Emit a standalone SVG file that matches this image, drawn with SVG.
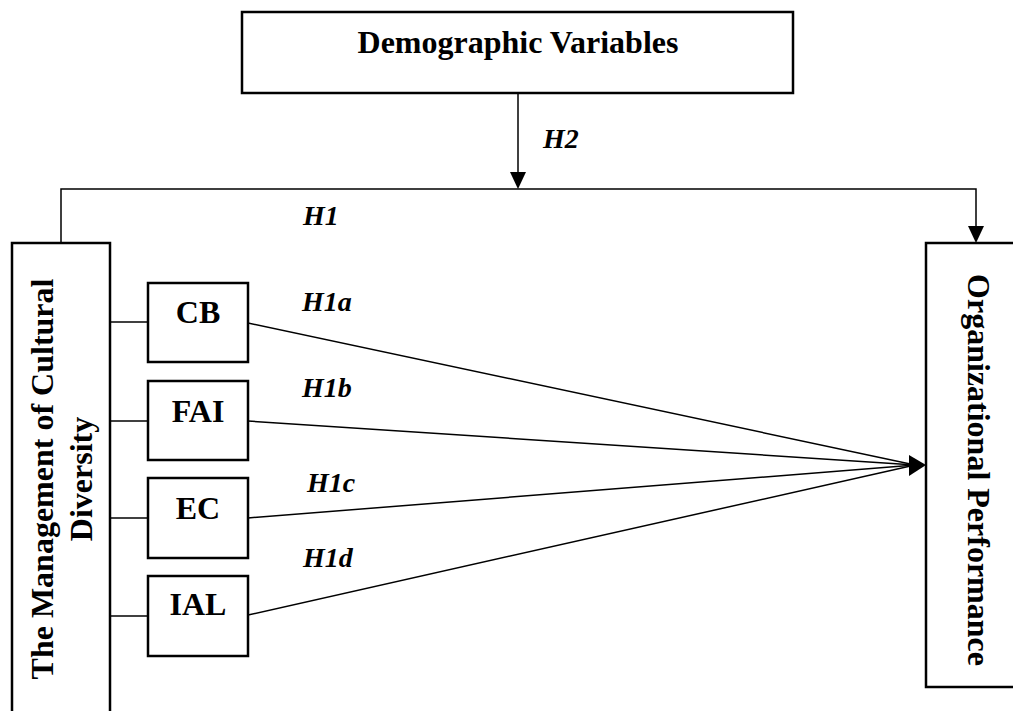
<svg xmlns="http://www.w3.org/2000/svg" width="1013" height="711" viewBox="0 0 1013 711">
<style>
.box{fill:#fff;stroke:#000;stroke-width:2.5}
.lbl{font-family:"Liberation Serif","Times New Roman",serif;font-weight:bold;font-size:32px;fill:#000}
.hyp{font-family:"Liberation Serif","Times New Roman",serif;font-weight:bold;font-style:italic;font-size:28px;fill:#000}
.ln{stroke:#000;stroke-width:1.5;fill:none}
.ah{fill:#000;stroke:none}
</style>
<rect width="1013" height="711" fill="#fff"/>
<g id="connectors">
<line class="ln" x1="518" y1="93" x2="518" y2="175"/>
<polygon class="ah" points="510,172 526,172 518,189"/>
<polyline class="ln" points="61,243 61,189 976,189 976,228"/>
<polygon class="ah" points="968,226 984,226 976,243"/>
<line class="ln" x1="110" y1="322" x2="148" y2="322"/>
<line class="ln" x1="110" y1="421" x2="148" y2="421"/>
<line class="ln" x1="110" y1="518" x2="148" y2="518"/>
<line class="ln" x1="110" y1="616" x2="148" y2="616"/>
<line class="ln" x1="248" y1="323" x2="915" y2="465"/>
<line class="ln" x1="248" y1="421" x2="915" y2="465"/>
<line class="ln" x1="248" y1="518" x2="915" y2="465"/>
<line class="ln" x1="248" y1="615" x2="915" y2="465"/>
<polygon class="ah" points="909,455 926,465 909,476"/>
<text class="hyp" x="543" y="148">H2</text>
<text class="hyp" x="303" y="225">H1</text>
<text class="hyp" x="302" y="311">H1a</text>
<text class="hyp" x="302" y="397">H1b</text>
<text class="hyp" x="307" y="492">H1c</text>
<text class="hyp" x="303" y="567">H1d</text>
</g>
<g id="demographic">
<rect class="box" x="242" y="12" width="551" height="81"/>
<text class="lbl" x="518" y="53" text-anchor="middle" font-size="31">Demographic Variables</text>
</g>
<g id="cultural-diversity">
<rect class="box" x="12" y="243" width="98" height="480"/>
<text class="lbl" transform="translate(53,479) rotate(-90)" text-anchor="middle">The Management of Cultural</text>
<text class="lbl" transform="translate(92,479) rotate(-90)" text-anchor="middle">Diversity</text>
</g>
<g id="org-performance">
<rect class="box" x="926" y="243" width="100" height="444"/>
<text class="lbl" transform="translate(968,470) rotate(90)" text-anchor="middle">Organizational Performance</text>
</g>
<g id="cb">
<rect class="box" x="148" y="283" width="100" height="79"/>
<text class="lbl" x="198" y="323" text-anchor="middle">CB</text>
</g>
<g id="fai">
<rect class="box" x="148" y="381" width="100" height="79"/>
<text class="lbl" x="198" y="422" text-anchor="middle">FAI</text>
</g>
<g id="ec">
<rect class="box" x="148" y="478" width="100" height="80"/>
<text class="lbl" x="198" y="519" text-anchor="middle">EC</text>
</g>
<g id="ial">
<rect class="box" x="148" y="576" width="100" height="80"/>
<text class="lbl" x="198" y="615" text-anchor="middle">IAL</text>
</g>
</svg>
